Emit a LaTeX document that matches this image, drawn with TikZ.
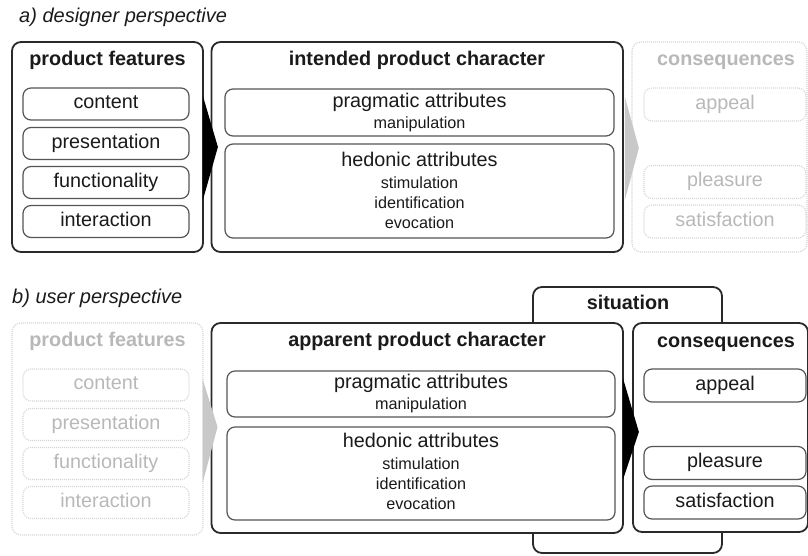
\documentclass[tikz,border=0pt]{standalone}
\usepackage{fontspec}
\setmainfont{Liberation Sans}
\usetikzlibrary{calc}
\definecolor{ink}{HTML}{1A1A1A}
\definecolor{frame}{HTML}{2A2A2A}
\definecolor{innerline}{HTML}{555555}
\definecolor{ghost}{HTML}{B8B8B8}
\definecolor{ghostline}{HTML}{D4D4D4}
\definecolor{arrowgray}{HTML}{C8C8C8}
\tikzset{
  outerbox/.style={draw=frame, line width=1.8pt, rounded corners=9pt, fill=white, inner sep=0pt},
  innerbox/.style={draw=innerline, line width=1.2pt, rounded corners=8pt, fill=white, inner sep=0pt},
  ghostbox/.style={draw=ghostline, line width=1.1pt, dash pattern=on 1pt off 1pt, rounded corners=9pt, inner sep=0pt},
  ghostinner/.style={ghostbox, rounded corners=8pt},
  ttl/.style={font=\fontsize{19.8}{23}\selectfont\bfseries, text=ink, inner sep=0pt, text height=14pt, text depth=4.2pt},
  itm/.style={font=\fontsize{19.8}{23}\selectfont, text=ink, inner sep=0pt, text height=14pt, text depth=4.2pt},
  subitm/.style={font=\fontsize{16.2}{19}\selectfont, text=ink, inner sep=0pt, text height=11.5pt, text depth=3.4pt},
  gttl/.style={ttl, text=ghost},
  gitm/.style={itm, text=ghost},
  heading/.style={font=\fontsize{20}{23}\selectfont\itshape, text=ink, anchor=base west, inner sep=0pt},
  pfw/.style={minimum width=166pt, minimum height=32pt},
  csw/.style={minimum width=162pt, minimum height=33pt},
}
\begin{document}
\begin{tikzpicture}[x=1pt,y=-1pt]
\useasboundingbox (0,0) rectangle (808,555);

% ---------------- a) designer perspective ----------------
\node[heading] (headA) at (19,22) {a) designer perspective};

% product features
\node[outerbox, minimum width=191pt, minimum height=210pt] (pfA) at (107.5,147) {};
\node[ttl] (pfAt) at (107.5,61) {product features};
\node[innerbox, pfw, itm] (contA) at (106,104) {content};
\node[innerbox, pfw, itm] (presA) at (106,143.5) {presentation};
\node[innerbox, pfw, itm] (funcA) at (106,182.5) {functionality};
\node[innerbox, pfw, itm] (interA) at (106,221.5) {interaction};

% intended product character
\node[outerbox, minimum width=411.5pt, minimum height=210pt] (ipcA) at (417.25,147) {};
\node[ttl] (ipcAt) at (417,61) {intended product character};
\node[innerbox, minimum width=389pt, minimum height=47pt] (pragA) at (419.5,112.5) {};
\node[itm] (pragAt) at (419.5,103) {pragmatic attributes};
\node[subitm] (manA) at (419.5,124) {manipulation};
\node[innerbox, minimum width=389pt, minimum height=94pt] (hedA) at (419.5,191) {};
\node[itm] (hedAt) at (419.5,162) {hedonic attributes};
\node[subitm] (stimA) at (419.5,184) {stimulation};
\node[subitm] (idA) at (419.5,204) {identification};
\node[subitm] (evoA) at (419.5,224) {evocation};

% consequences (ghost)
\node[ghostbox, minimum width=175pt, minimum height=210pt] (csA) at (719.5,147) {};
\node[gttl] (csAt) at (726,61) {consequences};
\node[ghostinner, csw, gitm] (appA) at (725,104.5) {appeal};
\node[ghostinner, csw, gitm] (pleaA) at (725,182) {pleasure};
\node[ghostinner, csw, gitm] (satA) at (725,221.5) {satisfaction};

% arrows a
\fill[black] ($(pfA.east)+(-1,-51)$) -- ($(pfA.east)+(14,0)$) -- ($(pfA.east)+(-1,53)$) -- cycle;
\fill[arrowgray] ($(ipcA.east)+(1,-50)$) -- ($(ipcA.east)+(15,1)$) -- ($(ipcA.east)+(1,53)$) -- cycle;

% ---------------- b) user perspective ----------------
\node[heading] (headB) at (12,303) {b) user perspective};

% situation (behind)
\node[outerbox, minimum width=189pt, minimum height=266pt] (sit) at (627.5,420) {};
\node[ttl] (sitt) at (628,305) {situation};

% product features (ghost)
\node[ghostbox, minimum width=191pt, minimum height=212pt] (pfB) at (107.5,429) {};
\node[gttl] (pfBt) at (107.5,342) {product features};
\node[ghostinner, pfw, gitm] (contB) at (106,385) {content};
\node[ghostinner, pfw, gitm] (presB) at (106,424.5) {presentation};
\node[ghostinner, pfw, gitm] (funcB) at (106,463.5) {functionality};
\node[ghostinner, pfw, gitm] (interB) at (106,502.5) {interaction};

% apparent product character
\node[outerbox, minimum width=411.5pt, minimum height=210pt] (apcB) at (417.25,428) {};
\node[ttl] (apcBt) at (417,342) {apparent product character};
\node[innerbox, minimum width=388pt, minimum height=46pt] (pragB) at (421,394) {};
\node[itm] (pragBt) at (421,384) {pragmatic attributes};
\node[subitm] (manB) at (421,405) {manipulation};
\node[innerbox, minimum width=388pt, minimum height=93pt] (hedB) at (421,473.5) {};
\node[itm] (hedBt) at (421,443) {hedonic attributes};
\node[subitm] (stimB) at (421,465) {stimulation};
\node[subitm] (idB) at (421,485) {identification};
\node[subitm] (evoB) at (421,505) {evocation};

% consequences
\node[outerbox, minimum width=175pt, minimum height=209pt] (csB) at (720.5,427.5) {};
\node[ttl] (csBt) at (726,343) {consequences};
\node[innerbox, csw, itm] (appB) at (725,385.5) {appeal};
\node[innerbox, csw, itm] (pleaB) at (725,463) {pleasure};
\node[innerbox, csw, itm] (satB) at (725,502.5) {satisfaction};

% arrows b
\fill[arrowgray] ($(pfB.east)+(-1,-50)$) -- ($(pfB.east)+(14,-2)$) -- ($(pfB.east)+(-1,54)$) -- cycle;
\fill[black] ($(apcB.east)+(-1,-50)$) -- ($(apcB.east)+(15,4)$) -- ($(apcB.east)+(-1,52)$) -- cycle;
\end{tikzpicture}
\end{document}
